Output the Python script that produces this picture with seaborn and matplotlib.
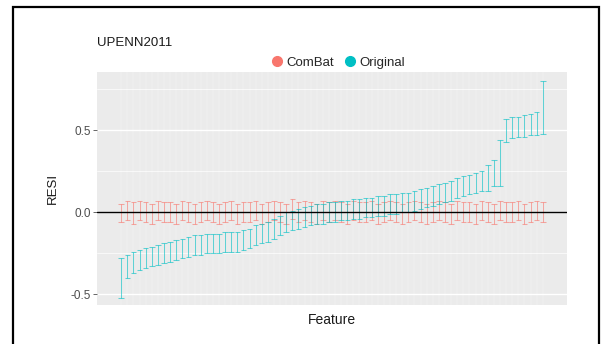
import numpy as np
import pandas as pd
import matplotlib
matplotlib.use("Agg")
import matplotlib.pyplot as plt
from matplotlib.lines import Line2D
from matplotlib.patches import Rectangle
import seaborn as sns

# Features ordered by the Original RESI estimate
feature = list(range(1, 71))

orig_lo = [-0.52, -0.40, -0.37, -0.35, -0.34, -0.33, -0.32, -0.31, -0.30, -0.29,
           -0.28, -0.27, -0.26, -0.26, -0.25, -0.25, -0.25, -0.24, -0.24, -0.24,
           -0.23, -0.22, -0.20, -0.19, -0.18, -0.16, -0.14, -0.12, -0.11, -0.10,
           -0.09, -0.08, -0.07, -0.07, -0.06, -0.06, -0.05, -0.05, -0.04, -0.04,
           -0.03, -0.03, -0.02, -0.02, -0.01, -0.01, 0.00, 0.00, 0.01, 0.02,
           0.03, 0.04, 0.05, 0.06, 0.07, 0.09, 0.10, 0.11, 0.12, 0.13,
           0.13, 0.16, 0.16, 0.43, 0.45, 0.46, 0.46, 0.47, 0.47, 0.48]
orig_hi = [-0.28, -0.26, -0.24, -0.23, -0.22, -0.21, -0.20, -0.19, -0.18, -0.17,
           -0.16, -0.15, -0.14, -0.14, -0.13, -0.13, -0.13, -0.12, -0.12, -0.12,
           -0.11, -0.10, -0.08, -0.07, -0.06, -0.04, -0.02, 0.00, 0.01, 0.02,
           0.03, 0.04, 0.05, 0.05, 0.06, 0.06, 0.07, 0.07, 0.08, 0.08,
           0.09, 0.09, 0.10, 0.10, 0.11, 0.11, 0.12, 0.12, 0.13, 0.14,
           0.15, 0.16, 0.17, 0.18, 0.19, 0.21, 0.22, 0.23, 0.24, 0.25,
           0.29, 0.32, 0.44, 0.57, 0.58, 0.58, 0.59, 0.60, 0.61, 0.80]

combat_lo = [-0.06, -0.05, -0.07, -0.05, -0.06, -0.07, -0.05, -0.06, -0.06, -0.07,
             -0.05, -0.06, -0.07, -0.06, -0.05, -0.06, -0.07, -0.06, -0.05, -0.07,
             -0.06, -0.06, -0.05, -0.07, -0.06, -0.05, -0.06, -0.07, -0.04, -0.06,
             -0.05, -0.06, -0.07, -0.05, -0.06, -0.05, -0.06, -0.07, -0.05, -0.06,
             -0.06, -0.05, -0.07, -0.06, -0.05, -0.06, -0.07, -0.06, -0.05, -0.06,
             -0.07, -0.06, -0.05, -0.06, -0.07, -0.05, -0.06, -0.06, -0.07, -0.05,
             -0.06, -0.07, -0.05, -0.06, -0.06, -0.05, -0.07, -0.06, -0.05, -0.06]
combat_hi = [0.05, 0.07, 0.06, 0.07, 0.06, 0.05, 0.07, 0.06, 0.06, 0.05,
             0.07, 0.06, 0.05, 0.06, 0.07, 0.06, 0.05, 0.06, 0.07, 0.05,
             0.06, 0.06, 0.07, 0.05, 0.06, 0.07, 0.06, 0.05, 0.08, 0.06,
             0.07, 0.06, 0.05, 0.07, 0.06, 0.07, 0.06, 0.05, 0.07, 0.06,
             0.06, 0.07, 0.05, 0.06, 0.07, 0.06, 0.05, 0.06, 0.07, 0.06,
             0.05, 0.06, 0.07, 0.06, 0.05, 0.07, 0.06, 0.06, 0.05, 0.07,
             0.06, 0.05, 0.07, 0.06, 0.06, 0.07, 0.05, 0.06, 0.07, 0.06]

series_names = ["ComBat", "Original"]
series_colors = {"ComBat": "#F8766D", "Original": "#00BFC4"}

df = pd.concat([
    pd.DataFrame({"Feature": feature, "lo": combat_lo, "hi": combat_hi, "Type": "ComBat"}),
    pd.DataFrame({"Feature": feature, "lo": orig_lo, "hi": orig_hi, "Type": "Original"}),
])

sns.set_theme(style="darkgrid", rc={
    "axes.facecolor": "#EBEBEB",
    "grid.color": "white",
    "axes.edgecolor": "#EBEBEB",
})
plt.rcParams["font.family"] = ["Liberation Sans", "DejaVu Sans"]

fig = plt.figure(figsize=(6.03, 3.44), dpi=100)
ax = fig.add_axes([97 / 603, 1 - 305 / 344, 470 / 603, 233 / 344])

# grid: one vertical line per feature, ggplot-like horizontal major/minor lines
ax.grid(False)
ax.set_axisbelow(True)
for f in feature:
    ax.axvline(f, color="white", lw=0.35, alpha=0.55, zorder=0)
for yv in [-0.5, 0.0, 0.5]:
    ax.axhline(yv, color="white", lw=1.0, zorder=0)
for yv in [-0.25, 0.25, 0.75]:
    ax.axhline(yv, color="white", lw=0.5, zorder=0)

cap = 0.45
for name in series_names:
    sub = df[df["Type"] == name]
    c = series_colors[name]
    kw = dict(color=c, lw=0.75, alpha=0.6, zorder=2)
    ax.vlines(sub["Feature"], sub["lo"], sub["hi"], **kw)
    ax.hlines(sub["lo"], sub["Feature"] - cap, sub["Feature"] + cap, **kw)
    ax.hlines(sub["hi"], sub["Feature"] - cap, sub["Feature"] + cap, **kw)

ax.axhline(0, color="black", lw=1.0, zorder=3)

span = feature[-1] - feature[0]
ax.set_xlim(feature[0] - 0.05 * span * 1.15, feature[-1] + 0.05 * span * 1.15)
ax.set_ylim(-0.565, 0.855)
ax.set_yticks([-0.5, 0.0, 0.5])
ax.set_yticklabels(["-0.5", "0.0", "0.5"])
ax.set_xticks([])
ax.tick_params(axis="y", labelsize=8.5, labelcolor="#4D4D4D", color="#4D4D4D",
               length=3, width=0.6, left=True, pad=1.5)
for s in ax.spines.values():
    s.set_visible(False)

ax.set_xlabel("Feature", fontsize=10, color="#1A1A1A", labelpad=6)
ax.set_ylabel("RESI", fontsize=9.5, color="#1A1A1A", labelpad=8)

fig.text(97 / 603, 1 - 42.5 / 344, "UPENN2011", fontsize=9.5, color="#1A1A1A",
         ha="left", va="center")

handles = [Line2D([], [], marker="o", ls="", color=series_colors[n], markersize=7)
           for n in series_names]
fig.legend(handles, series_names, loc="center", bbox_to_anchor=(337 / 603, 1 - 63 / 344),
           ncol=2, frameon=False, fontsize=9.5, handletextpad=0.1, columnspacing=0.6,
           handlelength=1.2, borderpad=0)

# outer black frame
fig.patches.append(Rectangle((13 / 603, -0.1), 586 / 603, 1.1 - 7 / 344,
                             transform=fig.transFigure, fill=False,
                             edgecolor="black", lw=1.6))

fig.savefig("out.png", dpi=100, facecolor="white")
